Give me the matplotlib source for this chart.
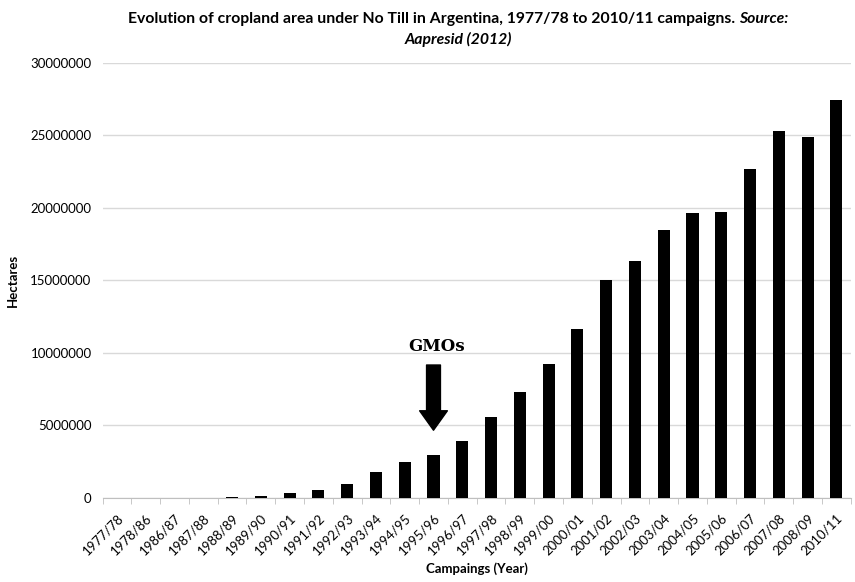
import matplotlib.pyplot as plt
import numpy as np

# campaigns and hectares under no till
campaigns = ['1977/78', '1978/86', '1986/87', '1987/88', '1988/89', '1989/90',
             '1990/91', '1991/92', '1992/93', '1993/94', '1994/95', '1995/96',
             '1996/97', '1997/98', '1998/99', '1999/00', '2000/01', '2001/02',
             '2002/03', '2003/04', '2004/05', '2005/06', '2006/07', '2007/08',
             '2008/09', '2010/11']
hectares = [0, 1000, 2000, 3000, 50000, 80000,
            300000, 500000, 970000, 1800000, 2430000, 2950000,
            3930000, 5580000, 7270000, 9250000, 11640000, 15000000,
            16320000, 18460000, 19650000, 19680000, 22680000, 25330000,
            24900000, 27450000]
yticks = [0, 5000000, 10000000, 15000000, 20000000, 25000000, 30000000]

fig, ax = plt.subplots(figsize=(8.55, 5.82), dpi=100)
fig.subplots_adjust(left=0.12, right=0.995, top=0.892, bottom=0.145)

x = np.arange(len(campaigns))
ax.bar(x, hectares, width=0.42, color='black', zorder=3)

ax.set_xlim(-0.5, len(campaigns) - 0.5)
ax.set_ylim(0, 30000000)
ax.set_yticks(yticks)
ax.set_yticklabels([str(v) for v in yticks], fontsize=9.5, family='Lato')
ax.yaxis.grid(True, color='#d9d9d9', linewidth=1, zorder=0)
ax.tick_params(axis='y', length=0, pad=8)

ax.set_xticks(x)
ax.set_xticklabels(campaigns, rotation=45, ha='right', rotation_mode='anchor',
                   fontsize=9.5, family='Lato')
ax.set_xticks(np.arange(-0.5, len(campaigns), 1), minor=True)
ax.tick_params(axis='x', which='major', length=0, pad=10)
ax.tick_params(axis='x', which='minor', length=4, color='#bfbfbf')

for s in ['top', 'right', 'left']:
    ax.spines[s].set_visible(False)
ax.spines['bottom'].set_color('#bfbfbf')

ax.set_xlabel('Campaings (Year)', fontsize=9.5, fontweight='bold', family='Lato', labelpad=4)
ax.set_ylabel('Hectares', fontsize=9.5, fontweight='bold', family='Lato', labelpad=8)

# title: bold first part, bold italic "Source:"
t1 = fig.text(0.5, 0.968,
              'Evolution of cropland area under No Till in Argentina, 1977/78 to 2010/11 campaigns. ',
              ha='right', va='center', fontsize=11.3, fontweight='bold', family='Lato')
t2 = fig.text(0.5, 0.968, 'Source:', ha='left', va='center', fontsize=11.3,
              fontweight='bold', style='italic', family='Lato')
fig.canvas.draw()
r = fig.canvas.get_renderer()
w1 = t1.get_window_extent(r).width / fig.bbox.width
w2 = t2.get_window_extent(r).width / fig.bbox.width
cx = 0.536
split = cx - (w1 + w2) / 2 + w1
t1.set_x(split)
t2.set_x(split)
fig.text(cx, 0.933, 'Aapresid (2012)', ha='center', va='center',
         fontsize=11.3, fontweight='bold', style='italic', family='Lato')

# GMOs marker
i = campaigns.index('1995/96')
ax.annotate('', xy=(i, 4650000), xytext=(i, 9150000),
            arrowprops=dict(width=10, headwidth=20, headlength=14, color='black'))
ax.text(i + 0.1, 10450000, 'GMOs', ha='center', va='center', fontsize=12,
        fontweight='bold', family='DejaVu Serif')

plt.savefig('out.png')
